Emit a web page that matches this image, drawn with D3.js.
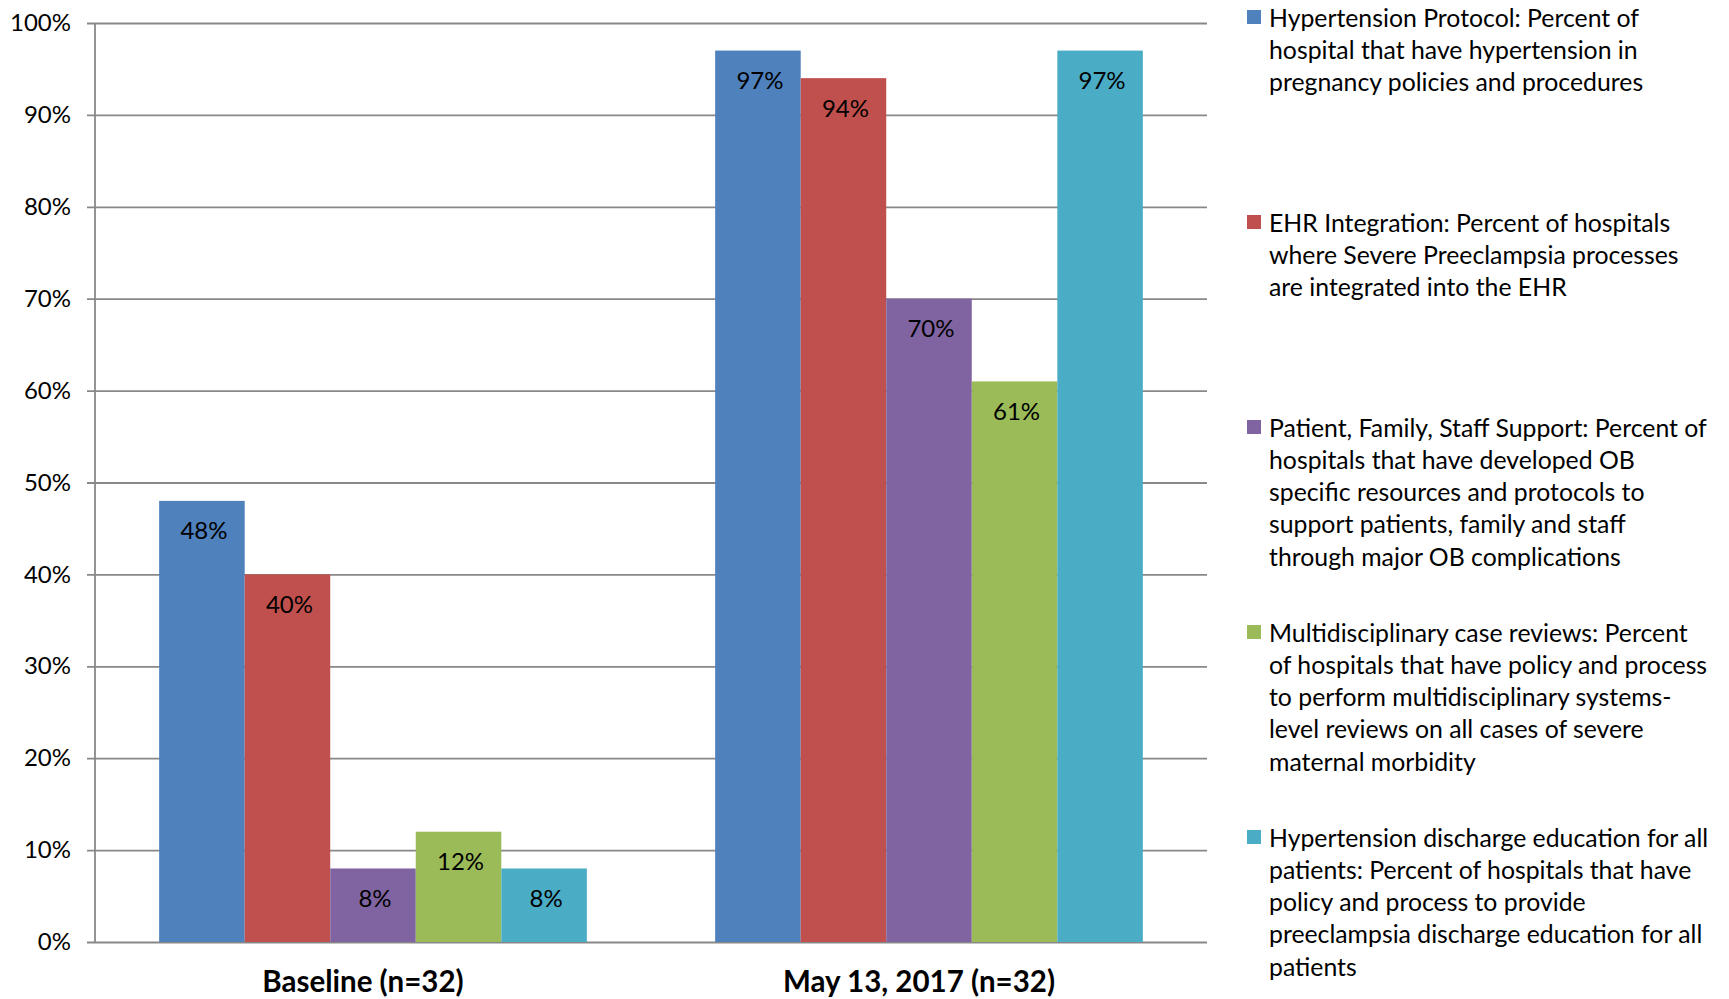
<!DOCTYPE html>
<html>
<head>
<meta charset="utf-8">
<script src="https://cdn.jsdelivr.net/npm/d3@7"></script>
<style>
  html, body { margin: 0; padding: 0; background: #fff; }
  text { font-family: Lato, "Open Sans", sans-serif; fill: #000; }
</style>
</head>
<body>
<div id="chart"></div>
<script>
// data
const categories = ["Baseline (n=32)", "May 13, 2017 (n=32)"];
const seriesKeys = ["protocol", "ehr", "support", "reviews", "discharge"];
const protocolValues = [48, 97];
const ehrValues = [40, 94];
const supportValues = [8, 70];
const reviewsValues = [12, 61];
const dischargeValues = [8, 97];
const seriesColors = ["#4F81BD", "#C0504D", "#8064A2", "#9BBB59", "#4BACC6"];
const yTicks = [0, 10, 20, 30, 40, 50, 60, 70, 80, 90, 100];
const legendLines = [
    ["Hypertension Protocol: Percent of", "hospital that have hypertension in", "pregnancy policies and procedures"],
    ["EHR Integration: Percent of hospitals", "where Severe Preeclampsia processes", "are integrated into the EHR"],
    ["Patient, Family, Staff Support: Percent of", "hospitals that have developed OB", "specific resources and protocols to", "support patients, family and staff", "through major OB complications"],
    ["Multidisciplinary case reviews: Percent", "of hospitals that have policy and process", "to perform multidisciplinary systems-", "level reviews on all cases of severe", "maternal morbidity"],
    ["Hypertension discharge education for all", "patients: Percent of hospitals that have", "policy and process to provide", "preeclampsia discharge education for all", "patients"]
];

const seriesValues = [protocolValues, ehrValues, supportValues, reviewsValues, dischargeValues];
const data = categories.map((c, i) => ({
    category: c,
    values: seriesKeys.map((k, j) => ({ key: k, value: seriesValues[j][i], color: seriesColors[j] }))
}));

const W = 1729, H = 999;
const margin = {top: 23, right: 522, bottom: 57, left: 95};
const width = W - margin.left - margin.right,
      height = H - margin.top - margin.bottom;

let svg = d3.select("#chart")
    .append("svg")
    .attr("width", W)
    .attr("height", H)
    .append("g")
    .attr("transform", `translate(${margin.left}, ${margin.top})`);

let x0 = d3.scaleBand()
    .domain(categories)
    .range([0, width])
    .padding(0);

let x1 = d3.scaleBand()
    .domain(seriesKeys)
    .range([0, x0.bandwidth()])
    .paddingInner(0)
    .paddingOuter(0.75);

let y = d3.scaleLinear()
    .domain([0, 100])
    .range([height, 0]);

// y axis + gridlines
let yAxis = svg.append("g")
    .call(d3.axisLeft(y)
        .tickValues(yTicks)
        .tickSize(-width)
        .tickSizeOuter(0)
        .tickPadding(24)
        .tickFormat(d => d + "%"));
yAxis.select(".domain").remove();
yAxis.selectAll(".tick line")
    .attr("x1", -8)
    .attr("stroke", "#888")
    .attr("stroke-width", 1.8);
yAxis.selectAll(".tick text")
    .style("font-size", "24px")
    .attr("fill", "#000");

// vertical axis line
svg.append("line")
    .attr("x1", 0).attr("x2", 0)
    .attr("y1", y(100)).attr("y2", y(0))
    .attr("stroke", "#888")
    .attr("stroke-width", 1.8);

// bars
let groups = svg.append("g")
    .selectAll("g")
    .data(data)
    .enter()
    .append("g")
    .attr("transform", d => `translate(${x0(d.category)},0)`);

groups.selectAll("rect")
    .data(d => d.values)
    .enter()
    .append("rect")
    .attr("x", d => x1(d.key))
    .attr("y", d => y(d.value))
    .attr("width", x1.bandwidth())
    .attr("height", d => y(0) - y(d.value))
    .attr("fill", d => d.color);

// data labels, inside end
groups.selectAll("text.lbl")
    .data(d => d.values)
    .enter()
    .append("text")
    .attr("class", "lbl")
    .attr("x", d => x1(d.key) + x1.bandwidth() / 2 + 2)
    .attr("y", d => y(d.value) + 29)
    .attr("text-anchor", "middle")
    .attr("dominant-baseline", "central")
    .style("font-size", "24px")
    .text(d => d.value + "%");

// category labels
svg.append("g")
    .selectAll("text")
    .data(categories)
    .enter()
    .append("text")
    .attr("x", d => x0(d) + x0.bandwidth() / 2 - 10)
    .attr("y", height + 38)
    .attr("text-anchor", "middle")
    .attr("dominant-baseline", "central")
    .style("font-size", "29.5px")
    .style("font-weight", "bold")
    .text(d => d);

// legend
let legend = d3.select("svg")
    .append("g")
    .attr("transform", "translate(1247, 17)");

let items = legend.selectAll("g")
    .data(legendLines)
    .enter()
    .append("g")
    .attr("transform", (d, i) => `translate(0, ${i * 205})`);

items.append("rect")
    .attr("x", 0)
    .attr("y", -7)
    .attr("width", 14)
    .attr("height", 14)
    .attr("fill", (d, i) => seriesColors[i]);

items.append("text")
    .style("font-size", "24.8px")
    .selectAll("tspan")
    .data(d => d)
    .enter()
    .append("tspan")
    .attr("x", 22)
    .attr("y", (d, i) => i * 32.3)
    .attr("dominant-baseline", "central")
    .text(d => d);
</script>
</body>
</html>
